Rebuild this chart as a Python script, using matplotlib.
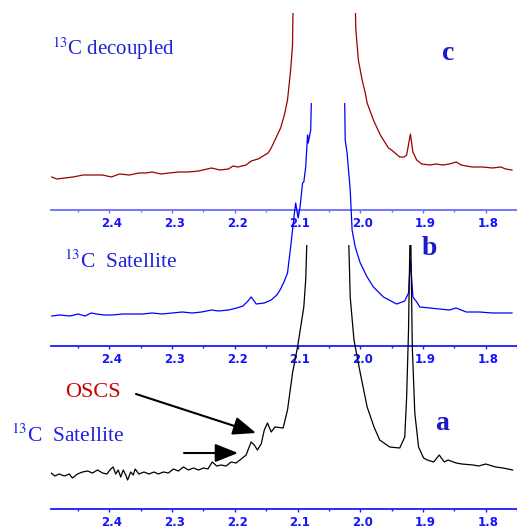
import numpy as np
import matplotlib.transforms as mtransforms
from matplotlib import pyplot as plt
from matplotlib.patches import FancyArrowPatch

# chemical shift (ppm) and intensity
# values above the top of each panel get clipped, like in the original
ppm_c = [2.492, 2.484, 2.471, 2.458, 2.442, 2.426, 2.411, 2.397, 2.384, 2.368,
         2.353, 2.342, 2.332, 2.318, 2.305, 2.289, 2.274, 2.258, 2.237, 2.224,
         2.210, 2.203, 2.195, 2.182, 2.174, 2.163, 2.147, 2.142, 2.127, 2.121,
         2.116, 2.111, 2.108, 2.106,
         2.010, 2.007, 2.003, 1.997, 1.992, 1.989, 1.979, 1.968, 1.955, 1.950,
         1.937, 1.930, 1.926, 1.920, 1.916, 1.910, 1.902, 1.889, 1.879, 1.868,
         1.858, 1.847, 1.839, 1.831, 1.821, 1.805, 1.789, 1.776, 1.768, 1.758]
int_c = [33, 31, 32, 33, 35, 35, 35, 33, 36, 35,
         37, 37, 38, 36, 37, 38, 38, 39, 42, 40,
         41, 44, 43, 45, 49, 51, 57, 62, 82, 95,
         110, 140, 165, 260,
         260, 180, 150, 130, 117, 107, 90, 75, 62, 60,
         53, 53, 55, 76, 58, 50, 46, 45, 46, 45,
         46, 48, 45, 44, 43, 43, 42, 43, 41, 40]

ppm_b = [2.492, 2.479, 2.463, 2.450, 2.439, 2.429, 2.421, 2.408, 2.395, 2.379,
         2.363, 2.347, 2.332, 2.316, 2.300, 2.284, 2.268, 2.253, 2.237, 2.226,
         2.210, 2.197, 2.187, 2.179, 2.174, 2.168, 2.166, 2.153, 2.142, 2.133,
         2.127, 2.121, 2.116, 2.111, 2.105, 2.103, 2.101, 2.099, 2.096, 2.092,
         2.090, 2.087, 2.084, 2.083, 2.079, 2.076,
         2.026, 2.024, 2.021, 2.016, 2.013, 2.008, 2.000, 1.989, 1.979, 1.963,
         1.942, 1.929, 1.923, 1.920, 1.916, 1.910, 1.905, 1.889, 1.874, 1.858,
         1.847, 1.831, 1.810, 1.789, 1.768, 1.758]
int_b = [30, 31, 30, 32, 30, 33, 32, 31, 31, 32,
         32, 32, 33, 32, 33, 34, 33, 34, 36, 35,
         36, 38, 40, 45, 49, 44, 42, 43, 46, 51,
         57, 65, 73, 99, 133, 143, 135, 128, 139, 163,
         164, 179, 211, 203, 216, 300,
         300, 206, 193, 156, 116, 99, 83, 69, 59, 49,
         42, 45, 53, 86, 49, 44, 39, 38, 37, 36,
         38, 34, 34, 33, 33, 33]

ppm_a = [2.493, 2.487, 2.480, 2.472, 2.464, 2.459, 2.451, 2.443, 2.435, 2.427,
         2.419, 2.411, 2.404, 2.398, 2.394, 2.390, 2.386, 2.382, 2.378, 2.374,
         2.371, 2.366, 2.362, 2.359, 2.353, 2.345, 2.337, 2.329, 2.322, 2.314,
         2.306, 2.298, 2.290, 2.282, 2.274, 2.266, 2.258, 2.250, 2.243, 2.236,
         2.229, 2.222, 2.214, 2.206, 2.198, 2.190, 2.182, 2.179, 2.174, 2.169,
         2.164, 2.158, 2.153, 2.148, 2.142, 2.136, 2.123, 2.116, 2.108, 2.100,
         2.095, 2.090, 2.087, 2.082,
         2.021, 2.016, 2.010, 2.000, 1.989, 1.978, 1.969, 1.953, 1.937, 1.929,
         1.926, 1.923, 1.920, 1.917, 1.913, 1.907, 1.899, 1.893, 1.883, 1.874,
         1.866, 1.860, 1.847, 1.838, 1.820, 1.811, 1.800, 1.784, 1.772, 1.757]
int_a = [36, 33, 35, 33, 35, 31, 35, 37, 38, 36,
         39, 36, 35, 40, 42, 35, 39, 32, 39, 34,
         29, 37, 34, 40, 35, 37, 35, 37, 35, 37,
         36, 40, 38, 42, 39, 41, 39, 41, 40, 47,
         43, 44, 43, 47, 46, 50, 54, 59, 67, 64,
         59, 65, 79, 86, 77, 82, 81, 99, 136, 162,
         182, 202, 229, 330,
         330, 212, 169, 136, 102, 82, 69, 62, 61, 72,
         112, 179, 300, 162, 96, 62, 51, 49, 47, 54,
         47, 49, 46, 45, 44, 43, 45, 42, 41, 39]

ppm_ticks = [2.4, 2.3, 2.2, 2.1, 2.0, 1.9, 1.8]

W, H = 517, 528


def fx(px):
    return px / W


def fy(py):
    return 1 - py / H


def make_panel(fig, bottom_px, top_px, spine_color):
    """ one spectrum panel, only the bottom axis line is shown"""
    ax = fig.add_axes([fx(51), fy(bottom_px), fx(517) - fx(51), fy(top_px) - fy(bottom_px)])
    ax.patch.set_alpha(0)
    for side in ['top', 'left', 'right']:
        ax.spines[side].set_visible(False)
    ax.spines['bottom'].set_color(spine_color)
    ax.spines['bottom'].set_linewidth(1.3)
    ax.set_xlim(2.4932, 1.7573)
    ax.set_xticks(ppm_ticks)
    ax.set_xticklabels(['%.1f' % t for t in ppm_ticks])
    ax.set_xticks(np.arange(1.75, 2.5, 0.05), minor=True)
    ax.tick_params(axis='x', which='major', colors=spine_color, length=2.3, width=1,
                   direction='out', pad=2.5)
    ax.tick_params(axis='x', which='minor', colors=spine_color, length=1.6, width=1,
                   direction='out')
    ax.tick_params(axis='x', labelcolor='#1414ff', labelsize=8.5)
    # labels sit a little right of their ticks in the original
    shift = mtransforms.ScaledTranslation(2.5 / 100, 0, fig.dpi_scale_trans)
    for lab in ax.get_xticklabels():
        lab.set_fontweight('bold')
        lab.set_transform(lab.get_transform() + shift)
    ax.set_yticks([])
    ax.set_ylim(0, bottom_px - top_px)
    return ax


def main():
    plt.rcParams['mathtext.fontset'] = 'stix'
    fig = plt.figure(figsize=(W / 100, H / 100), dpi=100)

    ax_c = make_panel(fig, 210, 13, '#6a6aff')
    ax_c.plot(ppm_c, int_c, color='#990000', lw=0.9)

    ax_b = make_panel(fig, 346, 103, '#1a1aff')
    ax_b.plot(ppm_b, int_b, color='#0000ff', lw=0.9)

    ax_a = make_panel(fig, 509, 245, '#1a1aff')
    ax_a.plot(ppm_a, int_a, color='black', lw=0.9)

    serif = 'Liberation Serif'
    blue = '#1a1acc'
    fig.text(fx(52), fy(55), '$^{13}$C decoupled', family=serif, size=15, color='#2020dd')
    fig.text(fx(64), fy(268), '$^{13}$C  Satellite', family=serif, size=15.5, color='#2020dd')
    fig.text(fx(11), fy(442), '$^{13}$C  Satellite', family=serif, size=15.5, color='#2020dd')
    fig.text(fx(65), fy(397), 'OSCS', family=serif, size=16, color='#cc0000')

    fig.text(fx(442), fy(60), 'c', family=serif, size=20, weight='bold', color=blue)
    fig.text(fx(422), fy(255), 'b', family=serif, size=20, weight='bold', color=blue)
    fig.text(fx(435), fy(430), 'a', family=serif, size=20, weight='bold', color=blue)

    # arrows pointing at the OSCS peak and the 13C satellite
    for tail, tip in [((136, 394), (256, 433)), ((184, 453), (238, 453))]:
        arrow = FancyArrowPatch((fx(tail[0]), fy(tail[1])), (fx(tip[0]), fy(tip[1])),
                                transform=fig.transFigure,
                                arrowstyle='-|>,head_length=1.0,head_width=0.4',
                                mutation_scale=14, color='black', lw=1.5,
                                shrinkA=0, shrinkB=0)
        fig.add_artist(arrow)

    fig.savefig('out.png', dpi=100)


if __name__ == '__main__':
    main()
